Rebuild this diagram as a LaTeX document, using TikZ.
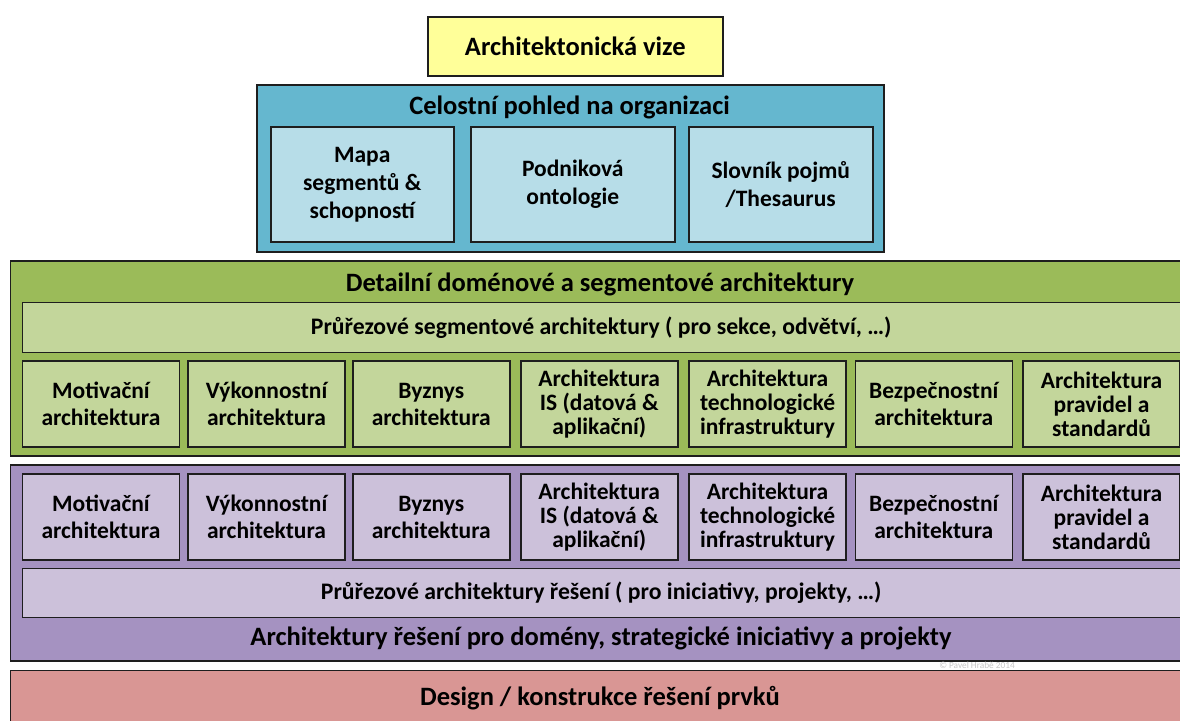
\documentclass[tikz,border=0pt]{standalone}
\usepackage{fontspec}
\setmainfont{Carlito}
\definecolor{yelF}{HTML}{FFFF99}
\definecolor{bluO}{HTML}{65B7CF}
\definecolor{bluI}{HTML}{B7DDE8}
\definecolor{grnO}{HTML}{9BBB59}
\definecolor{grnI}{HTML}{C3D69B}
\definecolor{purO}{HTML}{A592C1}
\definecolor{purI}{HTML}{CCC1DA}
\definecolor{redF}{HTML}{D99694}
\definecolor{edge}{HTML}{1E1E1E}
\begin{document}
\begin{tikzpicture}[x=1pt,y=-1pt,
  panel/.style={draw=edge, line width=1.8pt, inner sep=0pt, anchor=north west},
  cell/.style={draw=edge, line width=1.5pt, inner sep=0pt, anchor=north west, align=center,
    font=\bfseries\fontsize{23.5}{27}\selectfont},
  cellthree/.style={cell, font=\bfseries\fontsize{23.5}{24}\selectfont},
  cellblue/.style={cell, fill=bluI, minimum height=115pt, font=\bfseries\fontsize{23.5}{28}\selectfont},
  ttl/.style={inner sep=0pt, font=\bfseries\fontsize{26.5}{30}\selectfont},
  gcell/.style={cell, fill=grnI, minimum width=157pt, minimum height=86pt},
  gcellthree/.style={cellthree, fill=grnI, minimum width=157pt, minimum height=86pt},
  pcell/.style={cell, fill=purI, minimum width=157pt, minimum height=86pt},
  pcellthree/.style={cellthree, fill=purI, minimum width=157pt, minimum height=86pt},
  barcell/.style={cell, minimum width=1158pt, font=\bfseries\fontsize{23.7}{27}\selectfont}]
\useasboundingbox (0,0) rectangle (1180,720);
\clip (0,0) rectangle (1180,720);
\fill[white] (0,0) rectangle (1180,720);

% top vision
\node[cell, fill=yelF, minimum width=295pt, minimum height=59pt, font=\bfseries\fontsize{26.5}{30}\selectfont]
  (vize) at (427,16) {Architektonická vize};

% blue panel
\node[panel, fill=bluO, minimum width=627pt, minimum height=167pt] (blue) at (256,84) {};
\node[ttl] (bluet) at (569.5,107) {Celostní pohled na organizaci};
\node[cellblue, minimum width=183pt] (b1) at (270,126) {Mapa\\segmentů \&\\schopností};
\node[cellblue, minimum width=204pt] (b2) at (470,126) {Podniková\\ontologie};
\node[cellblue, minimum width=184pt] (b3) at (688,126) {Slovník pojmů\\/Thesaurus};

% green panel
\node[panel, fill=grnO, minimum width=1190pt, minimum height=195pt] (green) at (9.5,260) {};
\node[ttl] (greent) at (600,284) {Detailní doménové a segmentové architektury};
\node[barcell, fill=grnI, minimum height=50pt] (gbar) at (21.5,301.5)
  {Průřezové segmentové architektury ( pro sekce, odvětví, …)};
\node[gcell] (g1) at (21.7,360.3) {Motivační\\architektura};
\node[gcell] (g2) at (187.3,360.3) {Výkonnostní\\architektura};
\node[gcell] (g3) at (352,360.3) {Byznys\\architektura};
\node[gcellthree] (g4) at (520,360.3) {Architektura\\IS (datová \&\\aplikační)};
\node[gcellthree] (g5) at (688.3,360.3) {Architektura\\technologické\\infrastruktury};
\node[gcell] (g6) at (854.5,360.3) {Bezpečnostní\\architektura};
\node[gcellthree] (g7) at (1022.3,360.3) {Architektura\\pravidel a\\standardů};

% purple panel
\node[panel, fill=purO, minimum width=1190pt, minimum height=196pt] (purple) at (9.5,464) {};
\node[pcell] (p1) at (21.7,473.3) {Motivační\\architektura};
\node[pcell] (p2) at (187.3,473.3) {Výkonnostní\\architektura};
\node[pcell] (p3) at (352,473.3) {Byznys\\architektura};
\node[pcellthree] (p4) at (520,473.3) {Architektura\\IS (datová \&\\aplikační)};
\node[pcellthree] (p5) at (688.3,473.3) {Architektura\\technologické\\infrastruktury};
\node[pcell] (p6) at (854.5,473.3) {Bezpečnostní\\architektura};
\node[pcellthree] (p7) at (1022.3,473.3) {Architektura\\pravidel a\\standardů};
\node[barcell, fill=purI, minimum height=49pt] (pbar) at (21.5,567.5)
  {Průřezové architektury řešení ( pro iniciativy, projekty, …)};
\node[ttl] (purplet) at (601,638) {Architektury řešení pro domény, strategické iniciativy a projekty};
\node[inner sep=0pt, text=black!22, font=\fontsize{9.3}{10}\selectfont] (copy) at (977,665) {© Pavel Hrabě 2014};

% red panel
\node[panel, fill=redF, minimum width=1190pt, minimum height=70pt] (red) at (9.5,669.5) {};
\node[ttl] (redt) at (600,698) {Design / konstrukce řešení prvků};
\end{tikzpicture}
\end{document}
